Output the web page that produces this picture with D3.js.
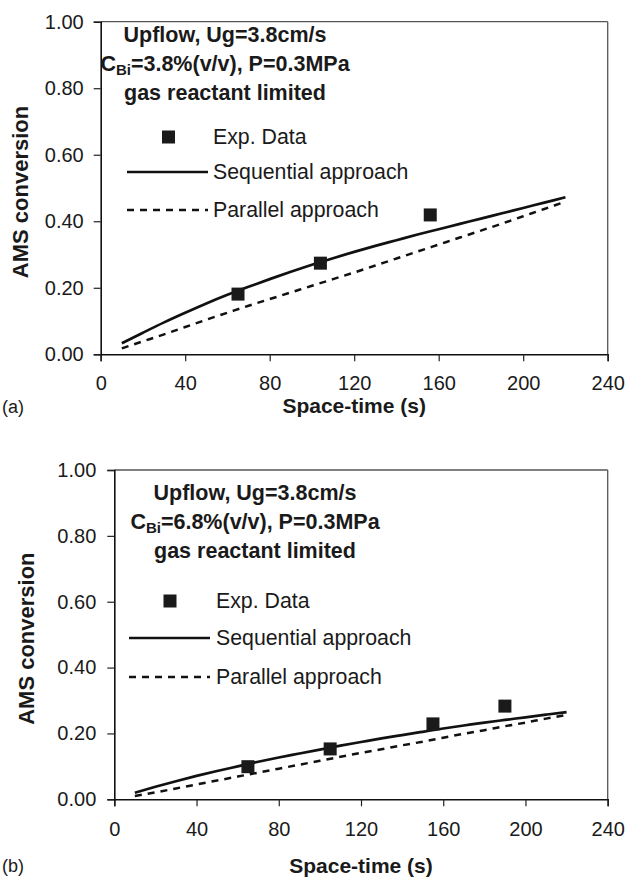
<!DOCTYPE html>
<html>
<head>
<meta charset="utf-8">
<script src="https://cdn.jsdelivr.net/npm/d3@7"></script>
<style>
  html, body { margin: 0; padding: 0; background: #fff; }
  svg { display: block; }
  text { font-family: "Liberation Sans", Arial, sans-serif; fill: #1a1a1a; }
</style>
</head>
<body>
<svg id="fig" width="628" height="879"></svg>
<script>
// Space-time grid (s) used for both model curves
const spaceTime = [10, 20, 30, 40, 50, 60, 70, 80, 90, 100, 110, 120, 130, 140, 150, 160, 170, 180, 190, 200, 210, 220];

// (a) C_Bi = 3.8 % (v/v)
const seqA = [0.033, 0.065, 0.096, 0.125, 0.153, 0.179, 0.203, 0.226, 0.248, 0.269, 0.289, 0.308, 0.326, 0.343, 0.360, 0.376, 0.392, 0.408, 0.424, 0.440, 0.456, 0.472];
const parA = [0.018, 0.039, 0.060, 0.082, 0.104, 0.125, 0.146, 0.166, 0.186, 0.206, 0.226, 0.246, 0.267, 0.288, 0.309, 0.330, 0.351, 0.372, 0.393, 0.415, 0.437, 0.459];
const expTimeA = [65, 104, 156];
const expConvA = [0.181, 0.274, 0.419];

// (b) C_Bi = 6.8 % (v/v)
const seqB = [0.020, 0.038, 0.055, 0.071, 0.086, 0.100, 0.114, 0.127, 0.139, 0.151, 0.163, 0.174, 0.185, 0.195, 0.205, 0.215, 0.224, 0.233, 0.241, 0.249, 0.257, 0.265];
const parB = [0.010, 0.021, 0.033, 0.045, 0.057, 0.069, 0.081, 0.093, 0.105, 0.117, 0.129, 0.141, 0.152, 0.164, 0.175, 0.187, 0.199, 0.210, 0.222, 0.233, 0.245, 0.256];
const expTimeB = [65, 105, 155, 190];
const expConvB = [0.099, 0.153, 0.229, 0.283];

// Axis ticks
const xTicks = [0, 40, 80, 120, 160, 200, 240];
const yTicks = [0, 0.2, 0.4, 0.6, 0.8, 1.0];

// Text
const titleLine1 = "Upflow, Ug=3.8cm/s";
const concA = "=3.8%(v/v), P=0.3MPa";
const concB = "=6.8%(v/v), P=0.3MPa";
const titleLine3 = "gas reactant limited";
const legendLabels = ["Exp. Data", "Sequential approach", "Parallel approach"];
const xTitle = "Space-time (s)";
const yTitle = "AMS conversion";

const svg = d3.select("#fig");

function drawPanel(p) {
  const x = d3.scaleLinear().domain([0, 240]).range([p.left, p.right]);
  const y = d3.scaleLinear().domain([0, 1]).range([p.bottom, p.top]);
  const g = svg.append("g");

  // frame: top and right edges are lighter
  g.append("line").attr("x1", p.left).attr("x2", p.right).attr("y1", p.top).attr("y2", p.top)
    .attr("stroke", "#555").attr("stroke-width", 1.3);
  g.append("line").attr("x1", p.right).attr("x2", p.right).attr("y1", p.top).attr("y2", p.bottom)
    .attr("stroke", "#555").attr("stroke-width", 1.3);

  // axes
  const xAxis = g.append("g").attr("transform", `translate(0,${p.bottom})`)
    .call(d3.axisBottom(x).tickValues(xTicks).tickSize(7).tickPadding(p.xPad).tickFormat(d3.format("d")));
  const yAxis = g.append("g").attr("transform", `translate(${p.left},0)`)
    .call(d3.axisLeft(y).tickValues(yTicks).tickSize(7).tickPadding(p.yPad).tickFormat(d3.format(".2f")));
  [xAxis, yAxis].forEach(a => {
    a.select(".domain").attr("stroke", "#111").attr("stroke-width", 1.6);
    a.selectAll(".tick line").attr("stroke", "#222").attr("stroke-width", 1.2);
    a.selectAll(".tick text").attr("font-size", 20).attr("font-family", "Liberation Sans, Arial, sans-serif").attr("fill", "#1a1a1a");
  });

  // model curves
  const line = d3.line().curve(d3.curveMonotoneX).x(d => x(d[0])).y(d => y(d[1]));
  g.append("path").datum(d3.zip(spaceTime, p.par)).attr("d", line)
    .attr("fill", "none").attr("stroke", "#111").attr("stroke-width", 2.5).attr("stroke-dasharray", "7,6");
  g.append("path").datum(d3.zip(spaceTime, p.seq)).attr("d", line)
    .attr("fill", "none").attr("stroke", "#111").attr("stroke-width", 2.7);

  // experimental points
  const s = 13;
  g.selectAll("rect.exp").data(d3.zip(p.expT, p.expC)).join("rect").attr("class", "exp")
    .attr("x", d => x(d[0]) - s / 2).attr("y", d => y(d[1]) - s / 2)
    .attr("width", s).attr("height", s).attr("fill", "#1a1a1a");

  // condition block
  const tb = g.append("g").attr("font-weight", "bold").attr("font-size", 21.5).attr("text-anchor", "middle");
  tb.append("text").attr("x", p.titleX).attr("y", p.titleY[0]).text(titleLine1);
  const t2 = tb.append("text").attr("x", p.titleX).attr("y", p.titleY[1]);
  t2.append("tspan").text("C");
  t2.append("tspan").attr("font-size", 15).attr("dy", 4).text("Bi");
  t2.append("tspan").attr("dy", -4).text(p.conc);
  tb.append("text").attr("x", p.titleX).attr("y", p.titleY[2]).text(titleLine3);

  // legend
  const lg = g.append("g").attr("font-size", 21.3);
  lg.append("rect").attr("x", p.legSq[0] - s / 2).attr("y", p.legSq[1] - s / 2)
    .attr("width", s).attr("height", s).attr("fill", "#1a1a1a");
  lg.append("line").attr("x1", p.legLine[0]).attr("x2", p.legLine[1]).attr("y1", p.legY[1]).attr("y2", p.legY[1])
    .attr("stroke", "#111").attr("stroke-width", 2.7);
  lg.append("line").attr("x1", p.legLine[0]).attr("x2", p.legLine[1]).attr("y1", p.legY[2]).attr("y2", p.legY[2])
    .attr("stroke", "#111").attr("stroke-width", 2.5).attr("stroke-dasharray", "7,6");
  legendLabels.forEach((lab, i) => {
    lg.append("text").attr("x", p.legTextX).attr("y", p.legY[i] + 7).text(lab);
  });

  // axis titles
  g.append("text").attr("x", (p.left + p.right) / 2).attr("y", p.xTitleY)
    .attr("text-anchor", "middle").attr("font-weight", "bold").attr("font-size", 21).text(xTitle);
  g.append("text").attr("transform", `translate(${p.yTitleX},${(p.top + p.bottom) / 2 + 4}) rotate(-90)`)
    .attr("text-anchor", "middle").attr("font-weight", "bold").attr("font-size", 22).text(yTitle);

  // panel label
  g.append("text").attr("x", 2).attr("y", p.labelY).attr("font-family", "Liberation Serif, Times New Roman, serif")
    .attr("font-size", 18).text(p.label);
}

drawPanel({
  left: 100.7, right: 607.7, top: 21.7, bottom: 354.3, xPad: 15, yPad: 10,
  seq: seqA, par: parA, expT: expTimeA, expC: expConvA,
  titleX: 225, titleY: [41.7, 71, 100], conc: concA,
  legSq: [168.5, 137], legLine: [127, 208], legY: [137, 172, 210], legTextX: 213,
  xTitleY: 413, labelY: 413, yTitleX: 28, label: "(a)"
});

drawPanel({
  left: 114.3, right: 607.7, top: 470, bottom: 799.3, xPad: 16, yPad: 11,
  seq: seqB, par: parB, expT: expTimeB, expC: expConvB,
  titleX: 255, titleY: [500, 529, 558], conc: concB,
  legSq: [170, 601], legLine: [129, 210], legY: [601, 638, 677], legTextX: 216,
  xTitleY: 873, labelY: 872, yTitleX: 34, label: "(b)"
});
</script>
</body>
</html>
